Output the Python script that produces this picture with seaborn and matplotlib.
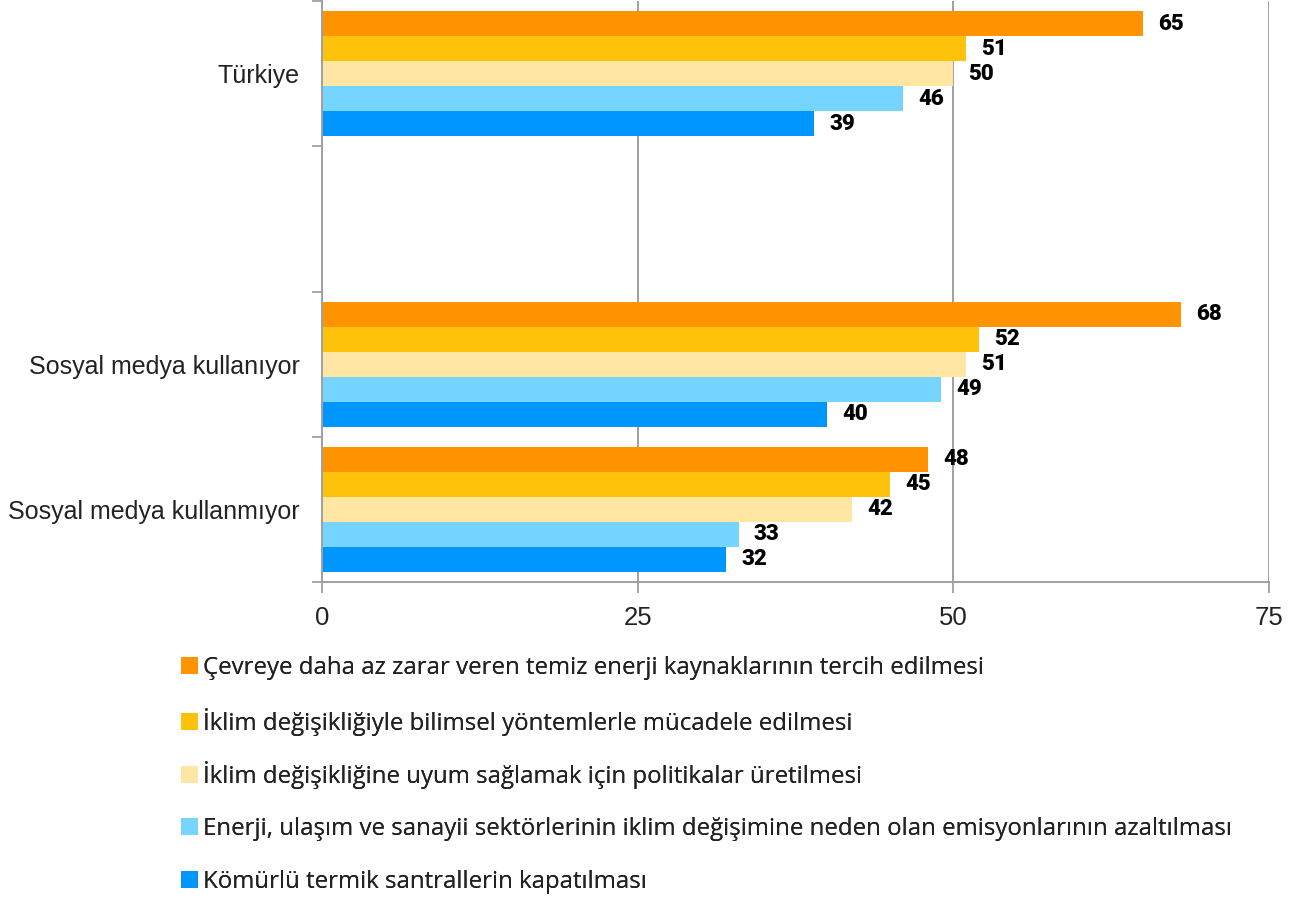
import matplotlib
matplotlib.use("Agg")
import matplotlib.pyplot as plt
from matplotlib.ticker import FixedLocator, NullFormatter
import seaborn as sns
import pandas as pd

# Survey groups (an empty slot separates the national total from the subgroups)
groups = ["Türkiye", "Sosyal medya kullanıyor", "Sosyal medya kullanmıyor"]
group_order = ["Türkiye", " ", "Sosyal medya kullanıyor", "Sosyal medya kullanmıyor"]

measures = [
    "Çevreye daha az zarar veren temiz enerji kaynaklarının tercih edilmesi",
    "İklim değişikliğiyle bilimsel yöntemlerle mücadele edilmesi",
    "İklim değişikliğine uyum sağlamak için politikalar üretilmesi",
    "Enerji, ulaşım ve sanayii sektörlerinin iklim değişimine neden olan emisyonlarının azaltılması",
    "Kömürlü termik santrallerin kapatılması",
]

# Percent support per measure, one list per group
turkiye = [65, 51, 50, 46, 39]
kullaniyor = [68, 52, 51, 49, 40]
kullanmiyor = [48, 45, 42, 33, 32]

colors = ["#FF9400", "#FFC20A", "#FFE6A3", "#76D5FF", "#0096FF"]

x_ticks = [0, 25, 50, 75]

rows = []
for g, vals in zip(groups, [turkiye, kullaniyor, kullanmiyor]):
    for m, v in zip(measures, vals):
        rows.append({"grup": g, "tedbir": m, "yuzde": v})
df = pd.DataFrame(rows)

sns.set_style("white")
plt.rcParams["font.family"] = ["Liberation Sans", "DejaVu Sans"]

fig = plt.figure(figsize=(13.14, 8.99), dpi=100)
ax = fig.add_axes([322 / 1314, 1 - 582 / 899, (1269 - 322) / 1314, 581 / 899])

sns.barplot(
    data=df, y="grup", x="yuzde", hue="tedbir",
    order=group_order, hue_order=measures, palette=colors,
    orient="h", width=0.86, saturation=1, ax=ax, legend=True,
)

for patch in ax.patches:
    patch.set_edgecolor("none")

# Value labels next to each bar
for container in ax.containers:
    ax.bar_label(container, labels=[f"{v:.0f}" for v in container.datavalues],
                 padding=11, fontsize=16, fontweight="black",
                 family=["Roboto"], color="black", zorder=5)

ax.set_xlim(0, 75)
ax.set_ylim(3.5, -0.5)
ax.set_xlabel("")
ax.set_ylabel("")

ax.xaxis.set_major_locator(FixedLocator(x_ticks))
ax.set_xticklabels([str(t) for t in x_ticks])
ax.tick_params(axis="x", which="major", length=8, width=1.3, color="#A0A0A0",
               labelsize=18.5, labelcolor="#222222", pad=9, bottom=True)

# Category labels centred on each slot, ticks on slot boundaries
ax.set_yticks([0, 2, 3])
ax.set_yticklabels(groups)
ax.tick_params(axis="y", which="major", length=0, labelsize=18,
               labelcolor="#222222", pad=16)
ax.yaxis.set_minor_locator(FixedLocator([-0.5, 0.5, 1.5, 2.5, 3.5]))
ax.yaxis.set_minor_formatter(NullFormatter())
ax.tick_params(axis="y", which="minor", length=7, width=1.3, color="#A0A0A0", left=True)

ax.grid(axis="x", color="#A0A0A0", linewidth=1.4)
ax.set_axisbelow(True)
for side in ["top", "right"]:
    ax.spines[side].set_visible(False)
for side in ["left", "bottom"]:
    ax.spines[side].set_color("#A0A0A0")
    ax.spines[side].set_linewidth(1.4)

# One legend row per measure, evenly spaced below the axes
handles, labels = ax.get_legend_handles_labels()
ax.get_legend().remove()
row_y = [668, 722, 775, 829, 882]
for h, lab, y in zip(handles, labels, row_y):
    leg = fig.legend(
        [h], [lab], loc="center left",
        bbox_to_anchor=(181 / 1314, 1 - y / 899),
        frameon=False, handlelength=0.7, handleheight=0.7,
        handletextpad=0.2, borderaxespad=0, borderpad=0,
        prop={"family": "Open Sans", "size": 17.3}, labelcolor="#222222",
    )
    fig.add_artist(leg)

fig.savefig("out.png", dpi=100)
